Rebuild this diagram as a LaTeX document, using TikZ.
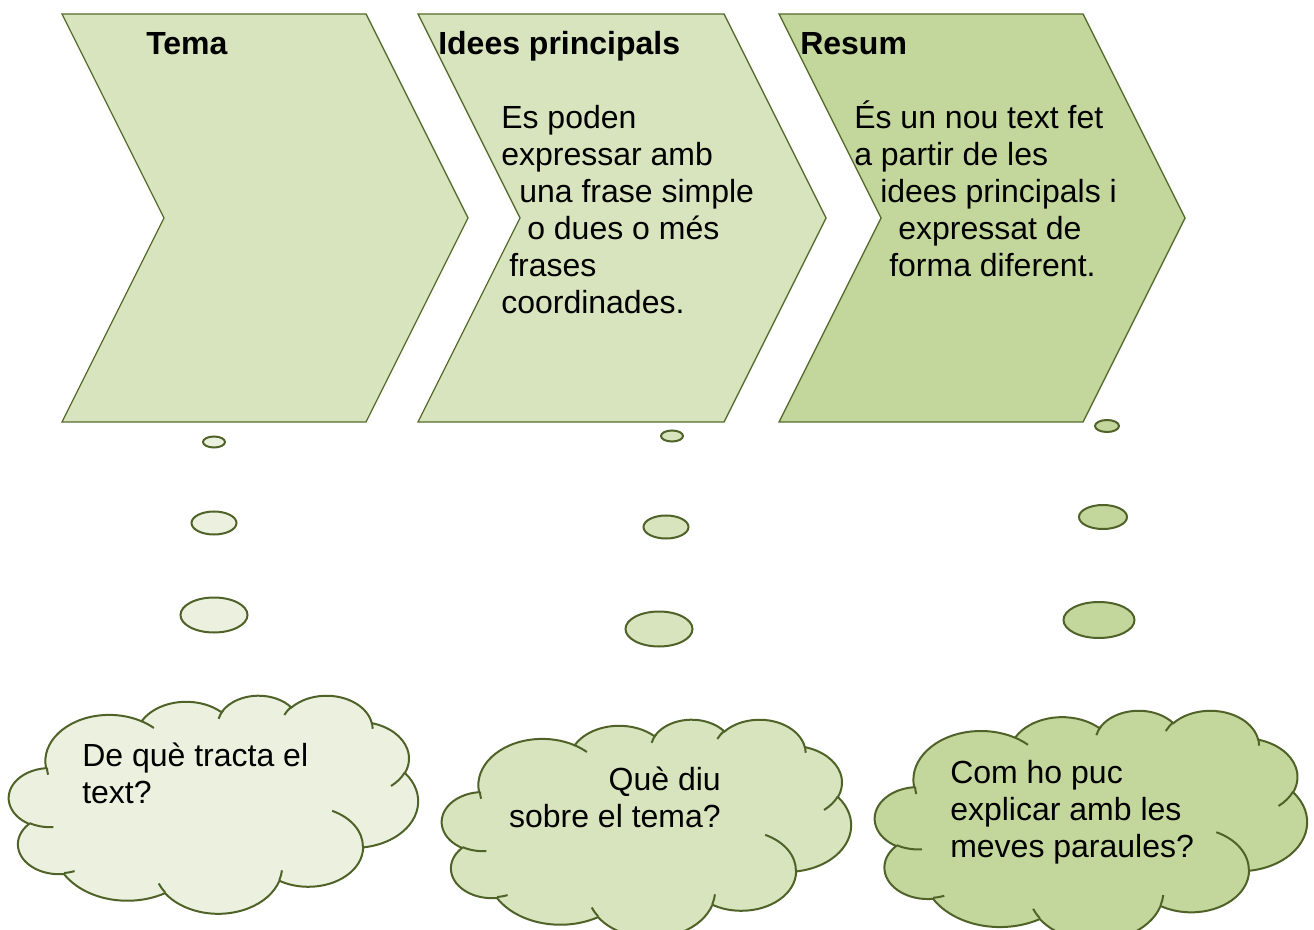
\documentclass[tikz,border=0pt]{standalone}
\usepackage{fontspec}
\setmainfont{Liberation Sans}
\usetikzlibrary{shapes.geometric}

\definecolor{chevlight}{RGB}{215,228,189}
\definecolor{chevdark}{RGB}{195,214,155}
\definecolor{cloudpale}{RGB}{235,241,222}
\definecolor{edgeolive}{RGB}{79,98,40}
\definecolor{chevedge}{RGB}{86,108,44}

% one bulge of the cloud: x radius, y radius, start angle, sweep (angles of the ray)
\newcommand\cloudarc[4]{%
  \pgfextra{%
    \pgfmathsetmacro\cloudsa{#3}%
    \pgfmathsetmacro\cloudea{#3+#4}%
    \pgfmathparse{\cloudsa+mod(atan2(#1*sin(\cloudsa),#2*cos(\cloudsa))-\cloudsa+900,360)-180}%
    \global\let\cloudta\pgfmathresult
    \pgfmathparse{\cloudea+mod(atan2(#1*sin(\cloudea),#2*cos(\cloudea))-\cloudea+900,360)-180}%
    \global\let\cloudtb\pgfmathresult}%
  arc[start angle=\cloudta, end angle=\cloudtb, x radius=#1pt, y radius=#2pt]}

% cloud outline in a 432pt x 432pt box
\newcommand\cloudoutline{(39pt,143.7pt)
  \cloudarc{67.53}{91.90}{-190.49}{123.78}
  \cloudarc{53.33}{72.67}{-144.10}{89.95}
  \cloudarc{43.65}{59.45}{-145.81}{99.72}
  \cloudarc{48.57}{65.95}{-130.99}{117.24}
  \cloudarc{53.33}{72.73}{-78.71}{109.03}
  \cloudarc{67.75}{92.20}{-46.27}{130.27}
  \cloudarc{57.85}{78.67}{0.63}{114.03}
  \cloudarc{67.52}{92.15}{22.45}{115.17}
  \cloudarc{77.20}{105.43}{66.24}{75.71}
  \cloudarc{43.60}{59.18}{-274.94}{146.74}
  \cloudarc{43.45}{59.45}{-246.83}{152.52} -- cycle}

% the small inner folds
\newcommand\cloudcreases{
  (46.93pt,261.77pt) \cloudarc{43.45}{59.45}{86.74}{26.43}
  (69.28pt,348.99pt) \cloudarc{43.60}{59.18}{73.61}{11.45}
  (164.78pt,390.90pt) \cloudarc{67.52}{92.15}{137.62}{14.08}
  (288.27pt,347.51pt) \cloudarc{67.52}{92.15}{6.45}{16.00}
  (341.29pt,229.54pt) \cloudarc{57.85}{78.67}{-70.29}{70.92}
  (417.98pt,153.54pt) \cloudarc{53.33}{72.73}{30.32}{27.75}
  (383.24pt,54.26pt) \cloudarc{48.57}{65.95}{-13.74}{14.86}
  (290.78pt,39.52pt) \cloudarc{48.57}{65.95}{-149.18}{18.20}
  (221.41pt,47.20pt) \cloudarc{43.65}{59.45}{-163.49}{20.58}
  (140.00pt,51.92pt) \cloudarc{67.53}{91.90}{-66.71}{12.32}
  (41.27pt,157.89pt) \cloudarc{67.53}{91.90}{164.81}{11.85}}

\begin{document}
\begin{tikzpicture}[
    x=0.75pt, y=0.75pt, yscale=-1,
    chev/.style={draw=chevedge, line width=1pt},
    cloudline/.style={draw=edgeolive, line width=1.5pt},
    bubble/.style 2 args={ellipse, draw=edgeolive, line width=1.5pt,
                inner sep=0pt, minimum width=#1*0.75pt, minimum height=#2*0.75pt},
    head/.style={font=\fontsize{24}{27.75}\selectfont\bfseries,
                inner sep=0pt, anchor=base west},
    txt/.style={font=\fontsize{24}{27.75}\selectfont, inner sep=0pt,
                align=left, anchor=north west}
  ]
  \useasboundingbox (0,0) rectangle (1314,930);
  % Chevrons
  \draw[chev, fill=chevlight] (62,14) -- ++(304,0) -- ++(102,204) -- ++(-102,204)
    -- ++(-304,0) -- ++(102,-204) -- cycle;
  \draw[chev, fill=chevlight] (418,14) -- ++(306,0) -- ++(102,204) -- ++(-102,204)
    -- ++(-306,0) -- ++(102,-204) -- cycle;
  \draw[chev, fill=chevdark] (779,14) -- ++(304,0) -- ++(102,204) -- ++(-102,204)
    -- ++(-304,0) -- ++(102,-204) -- cycle;
  \node[head] (tema) at (146,55) {Tema};
  \node[head] (idees) at (438,55) {Idees principals};
  \node[head] (resum) at (800,55) {Resum};
  \node[txt] (ideestxt) at (501,94.7) {\rule{0pt}{25pt}Es poden\\
    expressar amb\\ \hspace*{13.5pt}una frase simple\\
    \hspace*{19.5pt}o dues o més\\ \hspace*{6pt}frases\\ coordinades.};
  \node[txt] (resumtxt) at (854,94.7) {\rule{0pt}{25pt}És un nou text fet\\
    a partir de les\\ \hspace*{19.5pt}idees principals i\\
    \hspace*{33pt}expressat de\\ \hspace*{26.25pt}forma diferent.};
  % Thought bubbles
  \node[bubble={22}{11}, fill=cloudpale] (b1s) at (214,442) {};
  \node[bubble={45}{23}, fill=cloudpale] (b1m) at (214,523) {};
  \node[bubble={67}{35}, fill=cloudpale] (b1l) at (214,615) {};
  \node[bubble={22}{11}, fill=chevlight] (b2s) at (672,436) {};
  \node[bubble={45}{23}, fill=chevlight] (b2m) at (666,527) {};
  \node[bubble={67}{35}, fill=chevlight] (b2l) at (659,629) {};
  \node[bubble={24}{12}, fill=chevdark] (b3s) at (1107,426) {};
  \node[bubble={48}{24}, fill=chevdark] (b3m) at (1103,517) {};
  \node[bubble={71}{36}, fill=chevdark] (b3l) at (1099,620) {};
  % Clouds
  \begin{scope}[shift={(9,695)}, xscale=0.7101, yscale=0.3785]
    \draw[cloudline, fill=cloudpale] \cloudoutline;
    \draw[cloudline] \cloudcreases;
  \end{scope}
  \begin{scope}[shift={(442,719)}, xscale=0.7101, yscale=0.3785]
    \draw[cloudline, fill=chevlight] \cloudoutline;
    \draw[cloudline] \cloudcreases;
  \end{scope}
  \begin{scope}[shift={(875,710)}, xscale=0.75, yscale=0.3993]
    \draw[cloudline, fill=chevdark] \cloudoutline;
    \draw[cloudline] \cloudcreases;
  \end{scope}
  \node[txt] (q1) at (82,732.7) {\rule{0pt}{25pt}De què tracta el\\ text?};
  \node[txt, align=right, anchor=north east] (q2) at (721,756.7)
    {\rule{0pt}{25pt}Què diu\\ sobre el tema?};
  \node[txt] (q3) at (950,749.4) {\rule{0pt}{25pt}Com ho puc\\
    explicar amb les\\ meves paraules?};
\end{tikzpicture}
\end{document}
